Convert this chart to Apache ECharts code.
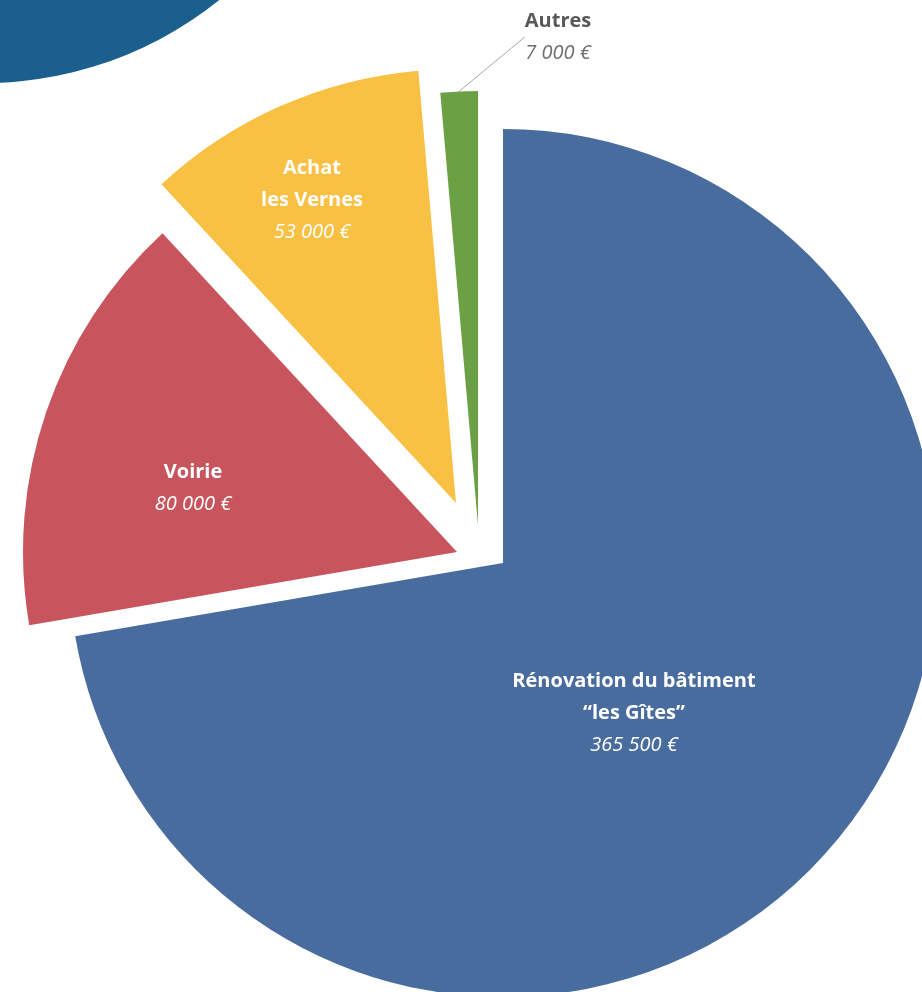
<!DOCTYPE html>
<html>
<head>
<meta charset="utf-8">
<script src="https://cdn.jsdelivr.net/npm/echarts@6/dist/echarts.min.js"></script>
<style>
html,body{margin:0;padding:0;background:#fff;}
#c{width:922px;height:992px;}
</style>
</head>
<body>
<div id="c"></div>
<script>
const categories = ['Rénovation du bâtiment\n“les Gîtes”', 'Voirie', 'Achat\nles Vernes', 'Autres'];
const values = [365500, 80000, 53000, 7000];
const colors = ['#496c9f', '#c8545d', '#f9c143', '#6ca045'];

// per-slice explosion: each slice drawn by its own pie series (same data, one slice visible)
const sliceCenters = [[503, 563], [457, 552], [456, 503], [478, 525]];
const labelSpots = [[634, 713], [193, 488], [312, 200], [558, 37]];

function fmt(v) {
  return String(v).replace(/\B(?=(\d{3})+(?!\d))/g, '\u00a0') + '\u00a0€';
}

const FONT = '"Open Sans"';

const series = categories.map((_, k) => {
  const outside = k === 3;
  return {
    type: 'pie',
    center: sliceCenters[k],
    radius: 434,
    startAngle: 90,
    clockwise: true,
    avoidLabelOverlap: false,
    silent: true,
    animation: false,
    emphasis: { disabled: true },
    label: {
      show: true,
      position: outside ? 'outside' : 'inside',
      formatter: p => '{n|' + p.name + '}\n{v|' + fmt(p.value) + '}',
      rich: {
        n: { fontFamily: FONT, fontWeight: 'bold', fontSize: 20, lineHeight: 32,
             color: outside ? '#595959' : '#ffffff', align: 'center' },
        v: { fontFamily: FONT, fontStyle: 'italic', fontSize: 20, lineHeight: 32,
             color: outside ? '#6e6e6e' : '#ffffff', align: 'center' }
      }
    },
    labelLine: outside ? { show: true, length: 10, length2: 0, lineStyle: { color: '#a6a6a6', width: 1 } } : { show: false },
    labelLayout: { x: labelSpots[k][0], y: labelSpots[k][1], align: 'center', verticalAlign: 'middle' },
    data: categories.map((name, i) => ({
      name: name,
      value: values[i],
      itemStyle: { color: i === k ? colors[i] : 'rgba(0,0,0,0)' },
      label: { show: i === k },
      labelLine: { show: i === k && outside }
    }))
  };
});

const chart = echarts.init(document.getElementById('c'), null, { renderer: 'canvas' });
chart.setOption({
  backgroundColor: '#ffffff',
  animation: false,
  graphic: [{
    type: 'circle',
    shape: { cx: -16, cy: -292, r: 375 },
    style: { fill: '#1b5f8f' },
    z: -1
  }],
  series: series
});
</script>
</body>
</html>
